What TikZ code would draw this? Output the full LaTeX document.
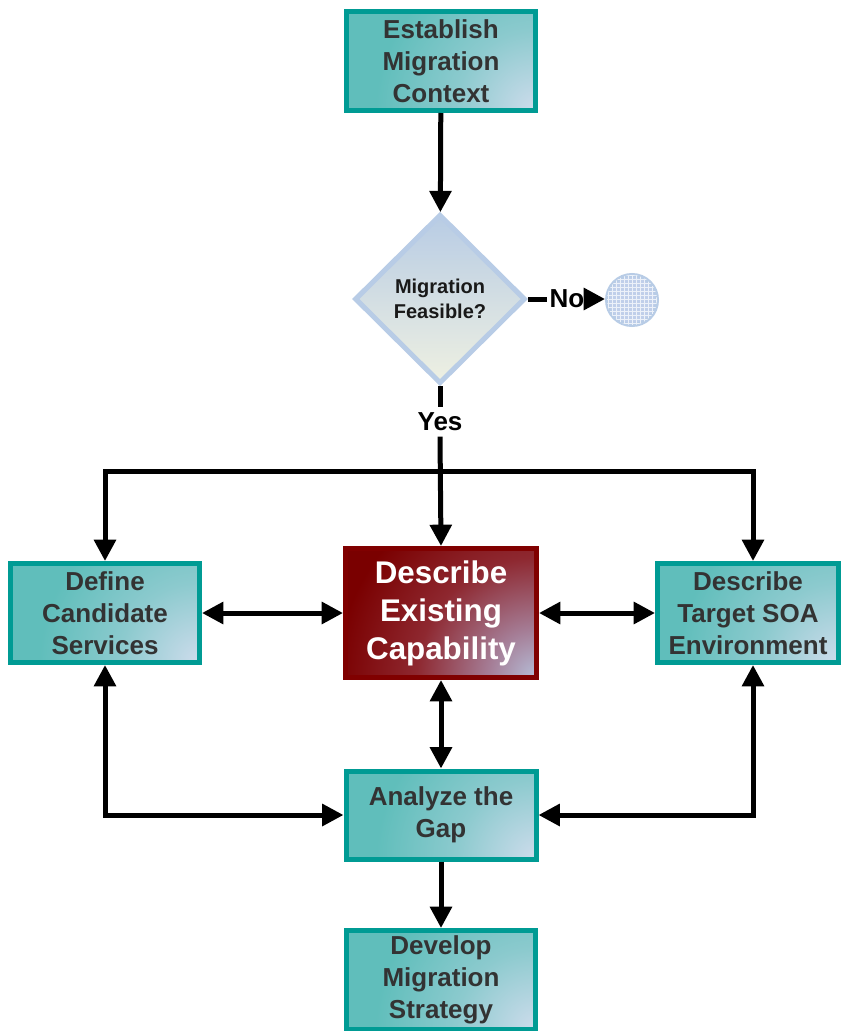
\documentclass[tikz,border=0pt]{standalone}
\usepackage{fontspec}
\setmainfont{Liberation Sans}
\usetikzlibrary{arrows.meta,shapes.geometric,patterns,calc}
\definecolor{tealA}{RGB}{96,190,187}
\definecolor{tealM}{RGB}{140,202,206}
\definecolor{tealB}{RGB}{206,220,236}
\definecolor{tealD}{RGB}{0,155,148}
\definecolor{redA}{RGB}{122,0,0}
\definecolor{redM}{RGB}{142,40,48}
\definecolor{redL}{RGB}{165,125,150}
\definecolor{redB}{RGB}{182,190,216}
\definecolor{redD}{RGB}{128,0,0}
\definecolor{diaT}{RGB}{184,204,228}
\definecolor{diaB}{RGB}{238,240,226}
\definecolor{diaD}{RGB}{184,204,230}
\definecolor{circF}{RGB}{192,207,234}
\definecolor{txt}{RGB}{51,51,51}
\pgfdeclareradialshading{tealrad}{\pgfpoint{0bp}{0bp}}{color(0bp)=(tealB); color(7.5bp)=(tealM); color(15bp)=(tealA); color(50bp)=(tealA)}
\pgfdeclareradialshading{redrad}{\pgfpoint{0bp}{0bp}}{color(0bp)=(redB); color(4.5bp)=(redL); color(11.25bp)=(redM); color(18.75bp)=(redA); color(50bp)=(redA)}
\tikzset{
  box/.style={draw=tealD, line width=3.75pt, fill=tealA,
    path picture={\shade[shading=tealrad] (path picture bounding box.south east) circle (200pt);},
    font=\bfseries\fontsize{19.5}{24}\selectfont, text=txt, align=center, inner sep=0pt,
    minimum width=141.75pt, minimum height=74.25pt},
  rbox/.style={draw=redD, line width=3.75pt, fill=redA,
    path picture={\shade[shading=redrad] (path picture bounding box.south east) circle (200pt);},
    font=\bfseries\fontsize{23.5}{28.5}\selectfont, text=white, align=center, inner sep=0pt,
    minimum width=143.25pt, minimum height=96.75pt},
  lbl/.style={font=\bfseries\fontsize{19.5}{24}\selectfont, text=black, inner sep=0pt},
  link/.style={line width=3.75pt, black},
  arr/.style={link, -{Triangle[length=16pt,width=16pt]}},
  darr/.style={link, {Triangle[length=16pt,width=16pt]}-{Triangle[length=16pt,width=16pt]}}
}
\begin{document}
\begin{tikzpicture}[x=0.75pt,y=-0.75pt]
\clip (0,0) rectangle (844,1031);
\fill[white] (0,0) rectangle (844,1031);
\node[box] (est) at (441,61) {Establish\\Migration\\Context};
\node[diamond, draw=diaD, line width=3.75pt, top color=diaT, bottom color=diaB,
  minimum width=128pt, minimum height=127pt, inner sep=0pt, align=center,
  font=\bfseries\fontsize{15}{18.75}\selectfont, text=black!90] (dia) at (440,299) {Migration\\Feasible?};
\node[lbl, inner xsep=1.5pt] (no) at (567,299) {No};
\node[circle, draw=diaD, line width=3pt, fill=circF, minimum size=37.5pt, inner sep=0pt,
  postaction={pattern=grid, pattern color=white!70!circF}] (endc) at (632,300) {};
\node[lbl, inner ysep=4pt] (yes) at (440,422) {Yes};
\node[box] (def) at (105,613) {Define\\Candidate\\Services};
\node[rbox] (exi) at (441,613) {Describe\\Existing\\Capability};
\node[box, minimum width=135.75pt] (tgt) at (748,613) {Describe\\Target SOA\\Environment};
\node[box, minimum width=142.5pt, minimum height=66pt] (ana) at (441,815) {Analyze the\\Gap};
\node[box] (dev) at (441,980) {Develop\\Migration\\Strategy};
\coordinate (j) at (440,471);
\draw[arr] (est) -- (dia);
\draw[link] (dia.east) -- (dia.east -| no.west);
\draw[arr] (no.east) -- (no.east -| endc.west);
\draw[link] (dia.south) -- (yes.north);
\draw[arr] (yes.south) -- (exi.north);
\draw[arr] (j) -| (def.north);
\draw[arr] (j) -| ([xshift=3.75pt]tgt.north);
\draw[darr] (def) -- (exi);
\draw[darr] (exi) -- (tgt);
\draw[darr] (exi) -- (ana);
\draw[darr] (def.south) |- (ana.west);
\draw[darr] ([xshift=3.75pt]tgt.south) |- (ana.east);
\draw[arr] (ana) -- (dev);
\end{tikzpicture}
\end{document}
